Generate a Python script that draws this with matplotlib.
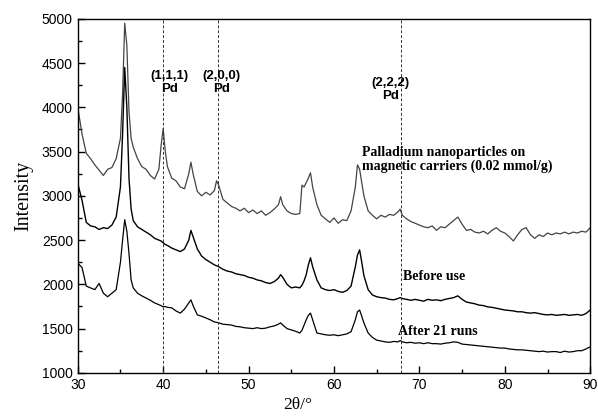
import matplotlib
matplotlib.use("Agg")
import matplotlib.pyplot as plt
from matplotlib.ticker import MultipleLocator

# 2theta positions (deg)
two_theta = [
    30.0, 30.5, 31.0, 31.5, 32.0, 32.5, 33.0, 33.5, 34.0, 34.5, 35.0,
    35.25, 35.5, 35.75, 36.0, 36.25, 36.5,
    37.0, 37.5, 38.0, 38.5, 39.0, 39.5,
    39.75, 40.0, 40.25, 40.5,
    41.0, 41.5, 42.0, 42.5, 43.0,
    43.25, 43.5,
    44.0, 44.5, 45.0, 45.5, 46.0,
    46.25, 46.5,
    47.0, 47.5, 48.0, 48.5, 49.0, 49.5, 50.0, 50.5, 51.0, 51.5, 52.0, 52.5, 53.0, 53.5,
    53.75, 54.0,
    54.5, 55.0, 55.5, 56.0,
    56.25, 56.5, 56.75, 57.0, 57.25, 57.5,
    58.0, 58.5, 59.0, 59.5, 60.0, 60.5, 61.0, 61.5, 62.0, 62.5,
    62.75, 63.0, 63.25, 63.5,
    64.0, 64.5, 65.0, 65.5, 66.0, 66.5, 67.0, 67.5,
    67.75, 68.0,
    68.5, 69.0, 69.5, 70.0, 70.5, 71.0, 71.5, 72.0, 72.5, 73.0, 73.5, 74.0,
    74.5, 75.0, 75.5, 76.0, 76.5, 77.0, 77.5, 78.0, 78.5, 79.0, 79.5, 80.0,
    80.5, 81.0, 81.5, 82.0, 82.5, 83.0, 83.5, 84.0, 84.5, 85.0, 85.5, 86.0,
    86.5, 87.0, 87.5, 88.0, 88.5, 89.0, 89.5, 90.0,
]

# Pd nanoparticles on magnetic carriers (0.02 mmol/g)
fresh = [
    4000, 3700, 3480, 3420, 3350, 3290, 3230, 3300, 3320, 3420, 3650,
    4150, 4950, 4700, 3950, 3650, 3550,
    3420, 3330, 3300, 3230, 3190, 3300,
    3560, 3760, 3500, 3330,
    3200, 3170, 3100, 3080, 3250,
    3380, 3250,
    3050, 3000, 3040, 3010, 3060,
    3170, 3120,
    2960, 2920, 2880, 2860, 2830, 2860, 2810, 2840, 2800, 2830, 2780, 2810, 2850, 2900,
    2990, 2900,
    2830, 2800, 2790, 2800,
    3120, 3100, 3150, 3200, 3260, 3100,
    2900, 2780, 2740, 2700, 2750, 2690, 2730, 2720, 2830, 3100,
    3350, 3300, 3150, 3000,
    2830, 2780, 2740, 2780, 2760, 2790, 2780, 2820,
    2850, 2780,
    2740, 2710, 2690, 2670, 2650, 2640, 2660, 2610, 2650, 2640, 2680, 2720,
    2760, 2680, 2610, 2620, 2590, 2580, 2600, 2570, 2610, 2640, 2600, 2580,
    2540, 2490, 2560, 2620, 2640, 2560, 2520, 2560, 2540, 2580, 2560, 2580,
    2570, 2590, 2570, 2590, 2580, 2600, 2590, 2640,
]

# before use
before = [
    3140, 2950, 2700, 2660, 2650, 2620, 2640, 2630, 2670, 2760, 3100,
    3700, 4450, 4000, 3200, 2850, 2720,
    2650, 2620, 2590, 2560, 2520, 2500,
    2490, 2470, 2450, 2440,
    2410, 2390, 2370, 2400, 2500,
    2610, 2540,
    2400, 2320, 2280, 2250, 2220,
    2210, 2200,
    2170, 2150, 2140, 2120, 2110, 2100, 2080, 2070, 2050, 2040, 2020, 2010, 2030, 2070,
    2110, 2080,
    2000, 1960, 1970, 1960,
    1990, 2040, 2110, 2220, 2300, 2200,
    2050, 1960, 1940, 1930, 1940, 1920, 1910, 1930, 1980, 2200,
    2330, 2390, 2250, 2100,
    1940, 1880, 1860, 1850, 1845, 1830, 1825, 1840,
    1850, 1840,
    1830, 1820, 1830, 1820, 1810, 1830, 1820, 1825, 1815, 1830, 1840, 1850,
    1870, 1830, 1800, 1790, 1780, 1765, 1760, 1745, 1740, 1730, 1720, 1710,
    1705, 1700, 1690, 1690, 1680, 1675, 1680, 1670, 1660, 1655, 1660, 1650,
    1655, 1660, 1650, 1655, 1660, 1650, 1670, 1710,
]

# after 21 runs
after = [
    2240, 2190, 1980, 1960, 1940, 2010, 1900, 1860, 1900, 1940, 2250,
    2500, 2730, 2600, 2350, 2050, 1960,
    1900, 1870, 1845, 1820, 1790, 1770,
    1760, 1745, 1750, 1740,
    1735, 1700, 1675, 1720, 1790,
    1825, 1760,
    1655, 1640, 1620, 1600, 1575,
    1570, 1565,
    1550, 1545, 1540, 1525, 1520, 1510, 1505, 1500, 1510, 1500, 1505, 1520, 1530, 1550,
    1565, 1540,
    1500, 1485, 1470, 1450,
    1480, 1540, 1600, 1650, 1675, 1600,
    1450, 1440, 1430, 1425, 1430, 1420, 1430, 1440, 1465, 1600,
    1690, 1710, 1640, 1565,
    1450, 1400, 1370, 1360, 1350, 1345, 1355, 1350,
    1365, 1350,
    1340, 1345, 1335, 1340, 1330, 1340, 1330, 1330, 1325, 1335, 1340, 1350,
    1345, 1325, 1320, 1315, 1310, 1305, 1300, 1295, 1290, 1285, 1280, 1280,
    1270, 1265, 1260, 1260, 1255, 1250, 1245, 1240, 1245, 1235, 1240, 1240,
    1230, 1245, 1235, 1240, 1250, 1250, 1270, 1295,
]

pd_lines = [40.0, 46.45, 67.8]
pd_labels = ["(1,1,1)\nPd", "(2,0,0)\nPd", "(2,2,2)\nPd"]

fig = plt.figure(figsize=(5.98, 4.18), dpi=100)
ax = fig.add_axes([0.130, 0.108, 0.857, 0.847])

ax.plot(two_theta, fresh, color="#444444", lw=0.9)
ax.plot(two_theta, before, color="black", lw=1.0)
ax.plot(two_theta, after, color="black", lw=0.9)

for xv in pd_lines:
    ax.axvline(xv, color="#333333", ls=(0, (3, 2)), lw=0.7)

sans = "Liberation Sans"
serif = "Liberation Serif"
ax.text(40.7, 4280, pd_labels[0], ha="center", va="center", fontsize=9.5,
        fontweight="bold", family=sans, linespacing=1.1)
ax.text(46.8, 4280, pd_labels[1], ha="center", va="center", fontsize=9.5,
        fontweight="bold", family=sans, linespacing=1.1)
ax.text(66.6, 4205, pd_labels[2], ha="center", va="center", fontsize=9.5,
        fontweight="bold", family=sans, linespacing=1.1)

ax.text(63.3, 3410, "Palladium nanoparticles on\nmagnetic carriers (0.02 mmol/g)",
        ha="left", va="center", fontsize=10, fontweight="bold", family=serif,
        linespacing=1.1)
ax.text(68.1, 2085, "Before use", ha="left", va="center", fontsize=10,
        fontweight="bold", family=serif)
ax.text(67.5, 1463, "After 21 runs", ha="left", va="center", fontsize=10,
        fontweight="bold", family=serif)

ax.set_xlim(30, 90)
ax.set_ylim(1000, 5000)
ax.xaxis.set_major_locator(MultipleLocator(10))
ax.xaxis.set_minor_locator(MultipleLocator(5))
ax.yaxis.set_major_locator(MultipleLocator(500))
ax.yaxis.set_minor_locator(MultipleLocator(250))
ax.tick_params(which="both", direction="in", labelsize=10)
ax.tick_params(which="major", length=5, width=1)
ax.tick_params(which="minor", length=3, width=1)
for lab in ax.get_xticklabels() + ax.get_yticklabels():
    lab.set_family(sans)
for sp in ax.spines.values():
    sp.set_linewidth(1.0)

ax.set_ylabel("Intensity", family=serif, fontsize=14.5, labelpad=6)
ax.set_xlabel("2θ/°", family=serif, fontsize=12.5)
ax.xaxis.set_label_coords(0.43, -0.068)

fig.savefig("out.png", dpi=100)
